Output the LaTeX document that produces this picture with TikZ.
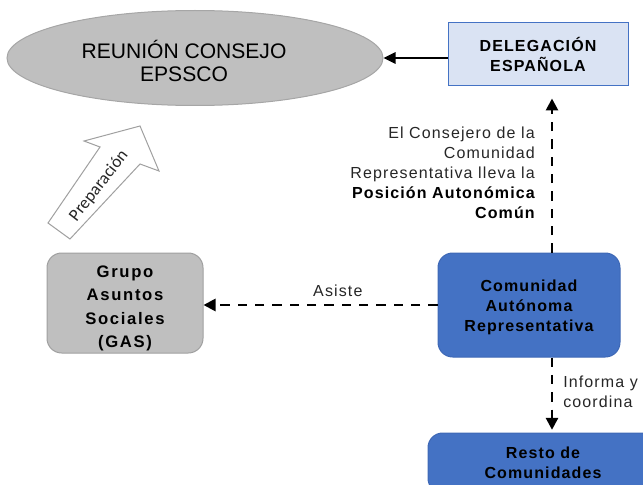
\documentclass[tikz,border=0pt]{standalone}
\usepackage{fontspec}
\setmainfont{Liberation Sans}
\newfontfamily\lsfont[LetterSpace=7]{Liberation Sans}
\newfontfamily\lswfont[LetterSpace=10]{Liberation Sans}
\newfontfamily\prepfont{Carlito}
\usetikzlibrary{arrows.meta,shapes.geometric}
\definecolor{ellgray}{HTML}{BFBFBF}
\definecolor{ellborder}{HTML}{A6A6A6}
\definecolor{delfill}{HTML}{DAE3F3}
\definecolor{delborder}{HTML}{4472C4}
\definecolor{bluefill}{HTML}{4472C4}
\definecolor{blueborder}{HTML}{3E68B6}
\definecolor{gasborder}{HTML}{A0A0A0}
\definecolor{arrowgray}{HTML}{A0A0A0}
\definecolor{textgray}{HTML}{262626}
\tikzset{
  boxtext/.style={font=\lsfont\bfseries\fontsize{12pt}{15pt}\selectfont, align=center, text=black},
  rbox/.style={rounded corners=11pt, line width=0.75pt},
  solidarrow/.style={line width=1.5pt, -{Triangle[length=9pt,width=8.5pt]}},
  dasharrow/.style={line width=2pt, dash pattern=on 7pt off 6pt, -{Triangle[length=9pt,width=9pt]}},
  lbltext/.style={font=\lsfont\fontsize{12pt}{15pt}\selectfont, inner sep=0pt, text=textgray}
}
\begin{document}
\begin{tikzpicture}[x=0.75pt,y=-0.75pt]
\useasboundingbox (0,0) rectangle (643,485);
\clip (0,0) rectangle (643,485);

% ellipse
\node[ellipse, draw=ellborder, fill=ellgray, line width=0.75pt,
      minimum width=282pt, minimum height=71.25pt, inner sep=0] (ell) at (195,58) {};
\node[font=\fontsize{15.8pt}{17.25pt}\selectfont, align=center, inner sep=0] (elltxt) at (184,60.5) {REUNIÓN CONSEJO\\EPSSCO};

% Delegacion
\node[draw=delborder, fill=delfill, line width=0.75pt, minimum width=135pt, minimum height=47.25pt, boxtext] (deleg) at (538,54.5) {DELEGACIÓN\\ESPAÑOLA};

% GAS
\node[rbox, draw=gasborder, fill=ellgray, minimum width=117pt, minimum height=75pt] (gas) at (125,303) {};
\node[align=center, inner sep=0, font=\lswfont\bfseries\fontsize{12.5pt}{17.6pt}\selectfont] (gastxt) at (125,308.5) {Grupo\\Asuntos\\Sociales\\(GAS)};

% Comunidad
\node[rbox, draw=blueborder, fill=bluefill, minimum width=136.5pt, minimum height=78pt] (comu) at (529,305) {};
\node[boxtext, inner sep=0] (comutxt) at (529,307.5) {Comunidad\\Autónoma\\Representativa};

% Resto
\node[rbox, draw=blueborder, fill=bluefill, minimum width=172.5pt, minimum height=45pt, boxtext] (resto) at (543,463) {Resto de\\Comunidades};

% Preparacion block arrow
\draw[draw=arrowgray, fill=white, line width=0.75pt, line join=miter]
  (140,126) -- (159,171) -- (140,164) -- (70,239) -- (48,223) -- (100,147) -- (84,141) -- cycle;
\node[rotate=52, font=\prepfont\fontsize{13pt}{15pt}\selectfont, text=textgray, inner sep=0] (prep) at (99,186) {Preparación};

% labels
\node[lbltext, anchor=east, align=right] (lbl1) at (535,173)
  {El Consejero de la\\Comunidad\\Representativa lleva la\\\textcolor{black}{\bfseries Posición Autonómica}\\\textcolor{black}{\bfseries Común}};
\node[lbltext, anchor=west, align=left] (lbl2) at (563,392) {Informa y\\coordina};

\coordinate (vx) at (552,0);

% connectors
\draw[solidarrow] (deleg.west |- ell.east) -- (ell.east);
\draw[dasharrow, shorten >=9pt] (vx |- comu.north) -- (vx |- deleg.south);
\draw[dasharrow, shorten >=2pt] (vx |- comu.south) -- (vx |- resto.north);
\draw[dasharrow] (comu.west) -- (comu.west -| gas.east)
  node[pos=0.426, above=5.5pt, lbltext] (asiste) {Asiste};
\end{tikzpicture}
\end{document}
